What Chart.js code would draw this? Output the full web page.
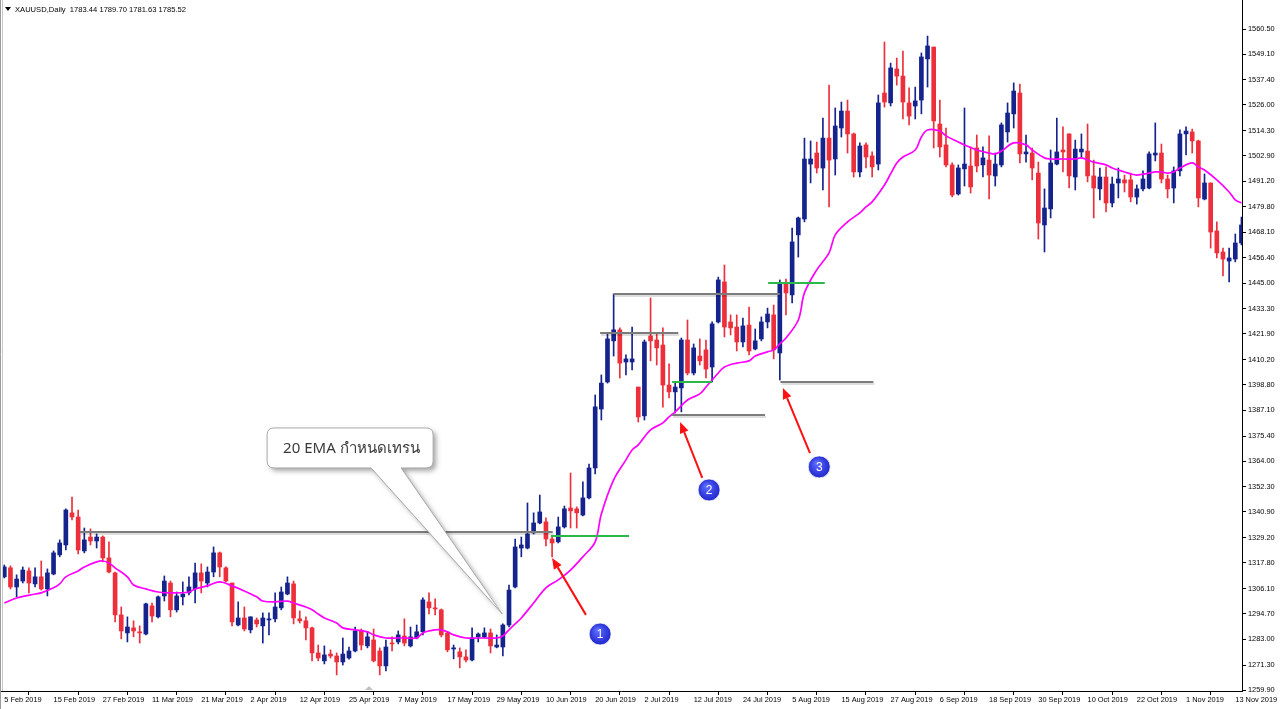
<!DOCTYPE html>
<html>
<head>
<meta charset="utf-8">
<script src="https://cdn.jsdelivr.net/npm/chart.js@4.4.1/dist/chart.umd.min.js"></script>
<style>
  html, body { margin: 0; padding: 0; background: #fff; overflow: hidden; }
  #wrap { width: 1280px; height: 709px; position: relative; }
</style>
</head>
<body>
<div id="wrap"><canvas id="chart" width="1280" height="709"></canvas></div>
<script>
// XAUUSD daily, 5 Feb 2019 .. 14 Nov 2019
// ============================================================
const dateLabels = ['5 Feb 2019', '15 Feb 2019', '27 Feb 2019', '11 Mar 2019', '21 Mar 2019', '2 Apr 2019',
  '12 Apr 2019', '25 Apr 2019', '7 May 2019', '17 May 2019', '29 May 2019', '10 Jun 2019', '20 Jun 2019',
  '2 Jul 2019', '12 Jul 2019', '24 Jul 2019', '5 Aug 2019', '15 Aug 2019', '27 Aug 2019', '6 Sep 2019',
  '18 Sep 2019', '30 Sep 2019', '10 Oct 2019', '22 Oct 2019', '1 Nov 2019', '13 Nov 2019'];
const labelEvery = 8; // one date label every 8 bars

const priceTicks = [1560.50, 1549.10, 1537.40, 1526.00, 1514.30, 1502.90, 1491.20, 1479.80, 1468.10, 1456.40,
  1445.00, 1433.30, 1421.90, 1410.20, 1398.80, 1387.10, 1375.40, 1364.00, 1352.30, 1340.90, 1329.20, 1317.80,
  1306.10, 1294.70, 1283.00, 1271.30, 1259.90];

const opens = [1311.4,1315.5,1306.8,1309.5,1314.1,1308.2,1311.4,1305.9,1312.7,1321.4,
  1325.9,1340.5,1338.6,1323.2,1329.5,1327.7,1329.5,1320.0,1313.2,1294.1,
  1285.9,1288.2,1286.4,1285.4,1298.2,1293.2,1302.7,1308.6,1296.4,1302.3,
  1304.1,1305.9,1313.2,1308.6,1313.6,1322.3,1315.5,1308.6,1289.5,1292.7,
  1287.3,1291.8,1289.1,1291.8,1292.3,1297.3,1303.6,1308.2,1292.3,1291.4,
  1288.2,1276.8,1273.2,1276.3,1275.4,1272.7,1274.5,1277.7,1286.8,1280.0,
  1282.7,1277.7,1270.9,1281.3,1281.8,1284.5,1280.0,1283.6,1286.4,1300.0,
  1297.3,1296.4,1285.9,1278.6,1277.3,1275.0,1273.6,1284.1,1284.1,1285.9,
  1279.5,1279.5,1289.5,1306.8,1324.5,1324.5,1331.4,1335.9,1336.4,1328.6,
  1327.3,1334.1,1342.7,1342.3,1339.5,1347.3,1360.9,1387.7,1400.0,1418.7,
  1423.7,1409.1,1409.1,1397.7,1384.6,1420.9,1419.1,1416.8,1398.6,1395.5,
  1397.3,1419.1,1404.1,1411.8,1414.6,1406.8,1427.3,1445.5,1427.3,1425.0,
  1418.2,1425.9,1415.0,1419.6,1427.3,1430.5,1413.2,1445.0,1439.6,1466.9,
  1474.1,1499.1,1504.1,1497.3,1510.9,1501.4,1515.5,1523.2,1512.8,1495.5,
  1507.8,1502.8,1499.1,1531.4,1526.9,1542.3,1539.1,1526.9,1525.5,1528.2,
  1546.9,1552.3,1517.3,1507.8,1498.7,1485.5,1496.9,1498.2,1506.4,1498.7,
  1500.9,1493.7,1498.7,1513.7,1521.9,1531.4,1503.7,1504.1,1495.0,1471.4,
  1478.7,1499.1,1505.5,1512.8,1493.2,1504.6,1505.0,1493.7,1487.8,1493.2,
  1481.4,1490.5,1491.9,1491.9,1484.1,1487.8,1488.2,1503.2,1504.1,1492.3,
  1488.2,1496.0,1512.8,1513.7,1509.6,1483.2,1490.5,1468.7,1459.1,1455.0,
  1455.9,1463.2];
const highs = [1316.8,1316.4,1312.3,1315.9,1315.5,1315.5,1318.6,1315.0,1323.2,1328.2,
  1342.3,1347.7,1341.8,1333.6,1333.2,1330.9,1330.0,1327.3,1313.6,1297.7,
  1293.2,1291.4,1289.1,1299.5,1299.5,1302.7,1311.8,1309.5,1304.5,1309.1,
  1311.4,1317.7,1317.3,1315.9,1325.0,1322.7,1315.9,1308.6,1300.0,1297.7,
  1293.2,1292.7,1295.0,1295.0,1304.1,1306.8,1311.4,1309.5,1295.9,1293.2,
  1288.6,1280.4,1280.0,1278.2,1276.8,1283.6,1279.5,1288.6,1287.7,1286.4,
  1287.7,1279.1,1282.7,1284.1,1286.8,1292.3,1288.6,1289.5,1301.8,1304.1,
  1301.4,1296.8,1286.4,1280.4,1279.1,1278.2,1288.2,1285.9,1288.2,1287.7,
  1285.0,1290.0,1307.7,1328.6,1329.5,1345.0,1340.5,1348.6,1338.2,1330.0,
  1338.6,1343.6,1358.6,1343.2,1354.6,1362.7,1394.1,1403.2,1422.3,1440.0,
  1424.6,1412.3,1425.0,1397.7,1419.1,1438.2,1422.3,1424.6,1408.2,1399.5,
  1420.0,1428.2,1417.3,1419.6,1419.1,1427.3,1447.7,1453.2,1430.5,1430.5,
  1429.1,1434.1,1424.1,1429.6,1433.6,1435.0,1446.4,1446.8,1470.0,1475.0,
  1510.9,1509.6,1509.1,1520.0,1535.0,1524.6,1527.3,1528.2,1513.2,1508.7,
  1508.7,1504.6,1530.5,1554.6,1545.0,1547.3,1550.5,1533.7,1534.1,1549.6,
  1557.3,1552.3,1528.2,1515.5,1499.6,1498.7,1524.6,1506.9,1512.3,1506.9,
  1511.9,1504.1,1517.8,1526.9,1536.0,1535.5,1512.3,1506.4,1500.0,1487.8,
  1505.5,1520.0,1516.0,1512.8,1510.0,1512.8,1517.3,1500.9,1497.3,1497.8,
  1493.2,1497.3,1494.1,1495.0,1489.6,1496.0,1504.6,1517.8,1508.2,1494.1,
  1497.8,1514.6,1516.0,1515.0,1510.0,1494.6,1490.5,1472.8,1460.9,1460.9,
  1467.3,1475.0];
const lows = [1310.9,1305.9,1302.3,1308.6,1304.1,1306.8,1305.4,1302.7,1312.3,1320.5,
  1323.6,1337.3,1321.8,1322.3,1325.9,1324.5,1318.2,1313.2,1290.9,1283.2,
  1281.8,1284.1,1281.3,1285.0,1290.9,1292.7,1300.4,1293.2,1295.4,1298.6,
  1303.2,1299.5,1304.1,1306.8,1311.4,1311.4,1309.1,1289.1,1289.1,1286.8,
  1285.9,1288.6,1281.3,1285.0,1290.9,1296.4,1303.2,1290.0,1290.4,1282.7,
  1273.2,1273.2,1271.8,1274.5,1266.8,1271.3,1274.0,1277.3,1278.2,1279.1,
  1272.7,1266.8,1268.6,1277.7,1280.9,1280.0,1279.5,1283.2,1285.0,1294.5,
  1294.1,1284.1,1277.3,1274.1,1270.0,1272.7,1273.2,1281.8,1283.6,1276.8,
  1279.1,1275.4,1288.6,1306.4,1320.5,1324.1,1330.9,1335.5,1325.5,1320.5,
  1326.8,1333.6,1333.6,1333.6,1339.1,1346.8,1358.2,1382.7,1399.5,1411.8,
  1401.8,1403.2,1405.5,1381.8,1382.7,1409.6,1407.7,1388.6,1392.7,1385.9,
  1386.4,1403.2,1403.2,1407.7,1401.8,1400.0,1426.8,1420.5,1421.4,1414.1,
  1415.9,1412.3,1414.6,1418.7,1424.6,1410.5,1400.9,1430.5,1436.0,1456.8,
  1472.8,1490.5,1495.0,1487.3,1479.6,1494.1,1511.4,1504.1,1493.2,1493.2,
  1497.3,1493.2,1496.4,1525.0,1525.5,1535.0,1519.6,1516.9,1519.6,1521.9,
  1534.1,1506.4,1502.3,1497.8,1484.1,1485.0,1489.1,1485.9,1495.5,1493.2,
  1483.2,1489.1,1497.8,1509.1,1515.5,1499.6,1500.0,1491.9,1465.0,1459.1,
  1474.6,1498.7,1495.5,1488.2,1487.3,1501.9,1491.0,1474.6,1482.8,1477.3,
  1479.6,1483.7,1486.4,1481.9,1480.9,1486.9,1487.8,1500.5,1490.5,1483.7,
  1481.4,1493.7,1503.2,1504.1,1479.6,1482.8,1460.9,1456.4,1448.2,1445.5,
  1454.6,1462.3];
const closes = [1315.9,1306.8,1310.4,1314.5,1308.6,1311.4,1305.9,1313.2,1322.3,1326.8,
  1341.8,1338.6,1323.6,1328.2,1327.7,1329.5,1320.0,1313.6,1294.1,1286.8,
  1288.6,1286.8,1285.9,1299.1,1293.6,1302.3,1309.5,1296.4,1302.7,1303.6,
  1306.8,1313.2,1309.5,1313.6,1322.3,1315.9,1309.5,1290.9,1292.7,1287.7,
  1293.2,1290.0,1292.7,1292.3,1297.7,1304.5,1308.6,1292.7,1291.4,1288.2,
  1276.8,1274.5,1275.9,1275.4,1272.7,1276.3,1277.7,1286.8,1280.4,1284.1,
  1273.2,1270.9,1279.5,1280.9,1285.0,1281.3,1284.1,1286.4,1300.9,1297.3,
  1296.8,1285.0,1278.2,1279.1,1275.0,1273.6,1283.6,1285.4,1285.9,1280.0,
  1280.4,1289.5,1305.4,1325.0,1325.9,1330.9,1335.9,1340.9,1328.6,1326.8,
  1334.1,1342.3,1341.4,1340.5,1347.3,1360.9,1388.7,1399.5,1419.6,1423.7,
  1408.6,1410.5,1410.5,1384.1,1418.2,1418.7,1415.5,1398.6,1395.5,1397.7,
  1419.1,1404.1,1415.5,1409.6,1405.9,1426.4,1446.4,1425.0,1424.6,1418.2,
  1425.5,1414.1,1418.7,1427.3,1430.9,1414.6,1445.0,1440.5,1463.7,1474.6,
  1501.4,1501.4,1497.3,1510.9,1500.9,1516.4,1523.2,1512.8,1495.5,1507.3,
  1502.3,1497.8,1526.9,1527.3,1542.8,1539.1,1527.3,1520.9,1527.8,1547.8,
  1552.8,1518.7,1506.9,1498.7,1485.0,1497.3,1499.1,1488.7,1498.2,1501.9,
  1494.1,1499.1,1516.9,1522.3,1532.3,1503.7,1504.6,1497.3,1472.3,1479.1,
  1499.6,1504.6,1504.6,1493.7,1505.9,1505.9,1493.7,1488.2,1493.2,1481.4,
  1490.0,1492.3,1490.5,1484.1,1487.8,1492.3,1503.7,1504.1,1492.3,1487.8,
  1496.0,1512.8,1514.1,1509.6,1483.7,1490.5,1468.2,1458.7,1455.9,1456.4,
  1463.2,1471.4];

// 20 EMA (bar index -> value)
const emaBars = [0,2,5,6,8,9,10,12,13,15,16,17,18,20,21,23,25,27,30,31,33,35,37,39,41,42,44,46,47,49,
  50,51,52,54,55,57,59,60,62,64,65,67,68,70,71,72,73,75,77,78,80,81,82,83,84,86,88,90,92,94,
  96,97,99,101,102,103,105,107,108,109,111,113,114,116,117,119,121,122,124,125,126,127,129,130,132,134,135,137,139,140,
  141,143,144,145,146,148,149,150,152,153,155,156,158,160,161,162,164,166,167,169,170,172,174,175,177,179,180,182,183,184,
  186,187,188,189,190,191,193,194,195,197,199,200,201];
const emaValues = [1299.5,1301.8,1303.6,1304.1,1306.4,1308.2,1311.4,1314.1,1315.9,1318.2,1318.6,1317.7,1315.5,1311.4,1307.7,1305.9,1304.5,1304.1,1304.5,1305.9,
  1307.3,1309.1,1307.3,1305.0,1302.3,1300.4,1300.0,1300.4,1299.5,1297.7,
  1296.4,1294.5,1292.7,1290.4,1288.2,1287.3,1286.4,1285.0,1283.6,1283.6,1283.6,1283.6,1285.9,1287.3,1287.3,1286.4,1285.0,1283.6,1283.6,1283.6,
  1283.6,1284.5,1287.3,1290.0,1292.7,1299.5,1306.4,1310.0,1314.5,1320.5,
  1327.3,1340.0,1355.5,1364.6,1369.1,1371.4,1378.2,1381.4,1384.1,1386.4,1391.8,1394.6,1397.7,1404.1,1406.8,1408.6,1409.6,1411.8,1413.7,1414.6,
  1417.3,1420.0,1428.2,1440.5,1451.0,1458.7,1466.9,1472.8,1476.9,1479.6,
  1481.9,1489.6,1494.6,1499.6,1502.3,1505.5,1511.4,1514.6,1514.1,1511.9,1509.1,1507.8,1505.5,1504.1,1503.7,1505.0,1508.7,1507.8,1505.5,1501.9,
  1501.4,1501.4,1501.4,1501.9,1500.0,1498.7,1497.3,1495.5,1494.6,1494.1,
  1495.0,1495.5,1495.5,1495.0,1495.5,1497.3,1499.6,1497.8,1496.4,1491.9,1486.4,1482.8,1481.4];

// drawn objects: horizontal levels (bar range + price), arrows, numbered markers
const levels = [
  { kind: 'grey',  from: 12.3,  to: 89.1,  price: 1331.8 },
  { kind: 'green', from: 88.8,  to: 101.5, price: 1330.0 },
  { kind: 'grey',  from: 99.0,  to: 126.0, price: 1440.0 },
  { kind: 'grey',  from: 96.8,  to: 109.5, price: 1422.3 },
  { kind: 'green', from: 108.5, to: 115.0, price: 1400.0 },
  { kind: 'grey',  from: 108.5, to: 123.6, price: 1385.0 },
  { kind: 'green', from: 124.1, to: 133.3, price: 1445.0 },
  { kind: 'grey',  from: 126.1, to: 141.2, price: 1400.2 }
];
const arrows = [
  { from: [94.5, 1294.1],  to: [89.0, 1320.0] },
  { from: [113.4, 1356.4], to: [109.8, 1381.8] },
  { from: [130.9, 1367.7], to: [126.5, 1397.3] }
];
const markers = [
  { label: '1', at: [96.8, 1285.4] },
  { label: '2', at: [114.5, 1350.9] },
  { label: '3', at: [132.4, 1361.4] }
];
const callout = { text: '20 EMA กำหนดเทรน', at: [42.7, 1379.1], tip: [80.9, 1294.5] };

const UP = '#15238d';
const DOWN = '#ec2f3a';
const FONT = "'Liberation Sans', Arial, sans-serif";

const isUp = i => closes[i] >= opens[i];
const candleColor = ctx => isUp(ctx.dataIndex) ? UP : DOWN;

const overlay = {
  id: 'overlay',
  afterDatasetsDraw(chart) {
    const { ctx, chartArea: a, scales: { x, y } } = chart;
    const px = p => [x.getPixelForValue(p[0]), y.getPixelForValue(p[1])];
    ctx.save();
    ctx.beginPath();
    ctx.rect(a.left, a.top, a.right - a.left, a.bottom - a.top);
    ctx.clip();

    // horizontal levels
    levels.forEach(l => {
      const x1 = x.getPixelForValue(l.from), x2 = x.getPixelForValue(l.to);
      const yy = Math.round(y.getPixelForValue(l.price));
      if (l.kind === 'grey') {
        ctx.strokeStyle = 'rgba(0,0,0,0.13)';
        ctx.lineWidth = 2;
        ctx.beginPath(); ctx.moveTo(x1 + 1, yy + 2); ctx.lineTo(x2 + 1, yy + 2); ctx.stroke();
        ctx.strokeStyle = '#7c7c7c';
      } else {
        ctx.strokeStyle = '#2db84b';
      }
      ctx.lineWidth = 2;
      ctx.beginPath(); ctx.moveTo(x1, yy); ctx.lineTo(x2, yy); ctx.stroke();
    });

    // red arrows
    arrows.forEach(ar => {
      const [x1, y1] = px(ar.from), [x2, y2] = px(ar.to);
      const ang = Math.atan2(y2 - y1, x2 - x1);
      const hl = 11, hw = 4.5;
      const bx = x2 - hl * Math.cos(ang), by = y2 - hl * Math.sin(ang);
      ctx.strokeStyle = '#ff1010';
      ctx.fillStyle = '#ff1010';
      ctx.lineWidth = 2;
      ctx.beginPath(); ctx.moveTo(x1, y1); ctx.lineTo(bx, by); ctx.stroke();
      ctx.beginPath();
      ctx.moveTo(x2, y2);
      ctx.lineTo(bx + hw * Math.sin(ang), by - hw * Math.cos(ang));
      ctx.lineTo(bx - hw * Math.sin(ang), by + hw * Math.cos(ang));
      ctx.closePath(); ctx.fill();
    });

    // numbered blue markers
    markers.forEach(m => {
      const [cx, cy] = px(m.at);
      const g = ctx.createRadialGradient(cx - 3, cy - 4, 1, cx, cy, 12);
      g.addColorStop(0, '#5b6bff');
      g.addColorStop(1, '#1c22c8');
      ctx.fillStyle = g;
      ctx.beginPath(); ctx.arc(cx, cy, 11, 0, Math.PI * 2); ctx.fill();
      ctx.strokeStyle = 'rgba(255,255,255,0.8)';
      ctx.lineWidth = 1;
      ctx.stroke();
      ctx.fillStyle = '#fff';
      ctx.font = '12px ' + FONT;
      ctx.textAlign = 'center';
      ctx.textBaseline = 'middle';
      ctx.fillText(m.label, cx, cy + 1);
    });

    // callout bubble
    const [bx, by] = px(callout.at), [tx, ty] = px(callout.tip);
    const w = 166, h = 40, r = 7, p1 = bx + 104, p2 = bx + 134;
    const bubble = () => {
      ctx.beginPath();
      ctx.moveTo(bx + r, by);
      ctx.lineTo(bx + w - r, by); ctx.quadraticCurveTo(bx + w, by, bx + w, by + r);
      ctx.lineTo(bx + w, by + h - r); ctx.quadraticCurveTo(bx + w, by + h, bx + w - r, by + h);
      ctx.lineTo(p2, by + h); ctx.lineTo(tx, ty); ctx.lineTo(p1, by + h);
      ctx.lineTo(bx + r, by + h); ctx.quadraticCurveTo(bx, by + h, bx, by + h - r);
      ctx.lineTo(bx, by + r); ctx.quadraticCurveTo(bx, by, bx + r, by);
      ctx.closePath();
    };
    ctx.save();
    ctx.shadowColor = 'rgba(0,0,0,0.35)';
    ctx.shadowBlur = 5;
    ctx.shadowOffsetX = 3;
    ctx.shadowOffsetY = 3;
    ctx.fillStyle = '#fff';
    bubble(); ctx.fill();
    ctx.restore();
    ctx.strokeStyle = '#a9a9a9';
    ctx.lineWidth = 1;
    bubble(); ctx.stroke();
    ctx.fillStyle = '#3a3a3a';
    ctx.font = "15px 'Noto Sans', 'DejaVu Sans', sans-serif";
    ctx.textAlign = 'left';
    ctx.textBaseline = 'middle';
    ctx.fillText(callout.text, bx + 16, by + h / 2 + 1);
    ctx.restore();
  },
  afterDraw(chart) {
    const { ctx, chartArea: a } = chart;
    ctx.save();
    // window frame on the left
    ctx.strokeStyle = '#9a9a9a';
    ctx.lineWidth = 1;
    ctx.beginPath(); ctx.moveTo(0.5, 0); ctx.lineTo(0.5, 709); ctx.stroke();
    ctx.strokeStyle = '#c8c8c8';
    ctx.beginPath(); ctx.moveTo(2.5, 0); ctx.lineTo(2.5, a.bottom); ctx.stroke();
    // header
    ctx.fillStyle = '#000';
    ctx.beginPath(); ctx.moveTo(5, 7); ctx.lineTo(11, 7); ctx.lineTo(8, 11); ctx.closePath(); ctx.fill();
    ctx.font = '7.6px ' + FONT;
    ctx.textBaseline = 'middle';
    ctx.fillText('XAUUSD,Daily  1783.44 1789.70 1781.63 1785.52', 15, 9.5);
    // chart shift marker
    ctx.fillStyle = '#c0c0c0';
    ctx.beginPath(); ctx.moveTo(365, a.bottom - 1); ctx.lineTo(373, a.bottom - 1); ctx.lineTo(369, a.bottom - 5); ctx.closePath(); ctx.fill();
    ctx.restore();
  }
};

const flatPad = s => { s.paddingLeft = 0; s.paddingRight = 0; s.paddingTop = 0; s.paddingBottom = 0; };

new Chart(document.getElementById('chart'), {
  type: 'bar',
  data: {
    datasets: [
      {
        type: 'line', label: '20 EMA', order: 0,
        data: emaBars.map((b, k) => ({ x: b, y: emaValues[k] })),
        borderColor: '#ff00ff', borderWidth: 1.7, pointRadius: 0, tension: 0.35, fill: false
      },
      {
        label: 'body', order: 1, grouped: false,
        data: opens.map((o, i) => ({ x: i, y: [o, closes[i]] })),
        backgroundColor: candleColor, borderWidth: 0, barThickness: 4, minBarLength: 1
      },
      {
        label: 'wick', order: 2, grouped: false,
        data: lows.map((l, i) => ({ x: i, y: [l, highs[i]] })),
        backgroundColor: candleColor, borderWidth: 0, barThickness: 1
      }
    ]
  },
  options: {
    responsive: false,
    animation: false,
    devicePixelRatio: 1,
    layout: { padding: 0 },
    plugins: { legend: { display: false }, tooltip: { enabled: false } },
    scales: {
      x: {
        type: 'linear', position: 'bottom', min: -0.70, max: 201.09, offset: false,
        afterBuildTicks: s => { s.ticks = dateLabels.map((_, k) => ({ value: k * labelEvery })); },
        afterFit: s => { s.height = 18; flatPad(s); },
        ticks: {
          autoSkip: false, maxRotation: 0, align: 'start', padding: 1, color: '#000',
          font: { family: FONT, size: 7.4 },
          callback: v => dateLabels[Math.round(v / labelEvery)]
        },
        grid: { drawOnChartArea: false, drawTicks: true, tickLength: 4, color: '#000' },
        border: { display: true, color: '#000', width: 1 }
      },
      y: {
        type: 'linear', position: 'right', min: 1259.49, max: 1573.69,
        afterBuildTicks: s => { s.ticks = priceTicks.map(v => ({ value: v })); },
        afterFit: s => { s.width = 38; flatPad(s); },
        ticks: {
          padding: 2, color: '#000', font: { family: FONT, size: 7.4 },
          callback: v => v.toFixed(2)
        },
        grid: { drawOnChartArea: false, drawTicks: true, tickLength: 4, color: '#000' },
        border: { display: true, color: '#000', width: 1 }
      }
    }
  },
  plugins: [overlay]
});
</script>
</body>
</html>
